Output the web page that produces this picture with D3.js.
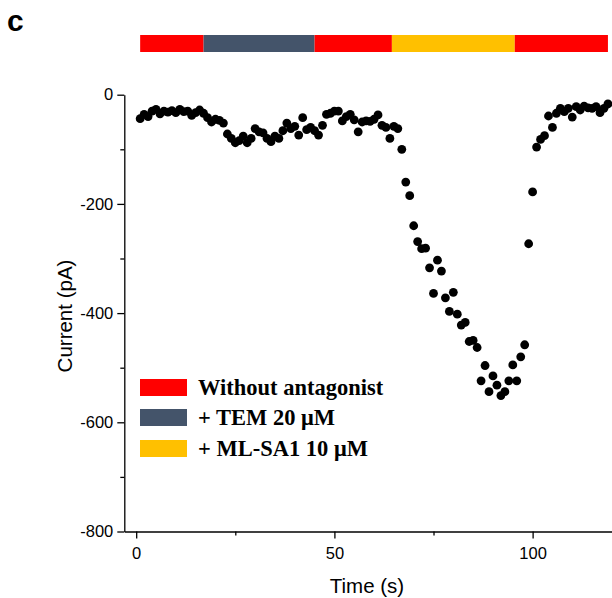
<!DOCTYPE html>
<html>
<head>
<meta charset="utf-8">
<script src="https://cdn.jsdelivr.net/npm/d3@7/dist/d3.min.js"></script>
<style>
  html, body { margin: 0; padding: 0; background: #fff; }
  svg { display: block; }
</style>
</head>
<body>
<svg id="chart" width="612" height="598"></svg>
<script>
// ---- data ----
const times = [1,2,3,4,5,6,7,8,9,10,11,12,13,14,15,16,17,18,19,20,
  21,22,23,24,25,26,27,28,29,30,31,32,33,34,35,36,37,38,39,40,
  41,42,43,44,45,46,47,48,49,50,51,52,53,54,55,56,57,58,59,60,
  61,62,63,64,65,66,67,68,69,70,71,72,73,74,75,76,77,78,79,80,
  81,82,83,84,85,86,87,88,89,90,91,92,93,94,95,96,97,98,99,100,
  101,102,103,104,105,106,107,108,109,110,111,112,113,114,115,116,117,118,119];
const currents = [-44,-36,-40,-30,-27,-35,-30,-32,-29,-33,-27,-31,-30,-38,-33,-28,-34,-42,-50,-45,
  -47,-52,-72,-80,-88,-84,-76,-88,-80,-62,-68,-70,-80,-86,-76,-80,-66,-52,-62,-58,
  -74,-42,-64,-60,-66,-74,-56,-36,-34,-30,-30,-48,-40,-36,-46,-68,-50,-48,-49,-45,
  -37,-56,-60,-80,-58,-62,-100,-160,-185,-240,-269,-282,-281,-317,-364,-303,-323,-372,-397,-362,
  -402,-422,-417,-452,-450,-463,-524,-496,-544,-515,-532,-551,-544,-524,-495,-524,-480,-458,-273,-178,
  -96,-82,-75,-39,-60,-34,-25,-31,-25,-41,-22,-28,-21,-24,-25,-22,-33,-25,-17];

const yMajorTicks = [-800, -600, -400, -200, 0];
const yMinorTicks = [-700, -500, -300, -100];
const xMajorTicks = [0, 50, 100];
const xMinorTicks = [25, 75];

const barStarts = [1, 17, 45, 64.5, 95.5];
const barEnds   = [17, 45, 64.5, 95.5, 119];
const barColors = ["#FF0000", "#44546A", "#FF0000", "#FFC000", "#FF0000"];

const legendLabels = ["Without antagonist", "+ TEM 20 \u03BCM", "+ ML-SA1 10 \u03BCM"];
const legendColors = ["#FF0000", "#44546A", "#FFC000"];

// ---- layout ----
const svg = d3.select("#chart");
const x = d3.scaleLinear().domain([-3, 120]).range([124.3, 611.9]);
const y = d3.scaleLinear().domain([-800, 0]).range([531.5, 94.7]);

// panel letter
svg.append("text").attr("x", 7).attr("y", 31)
  .attr("font-family", "Liberation Sans, Arial, sans-serif")
  .attr("font-weight", "bold").attr("font-size", 30).text("c");

// top condition bar
svg.append("g").selectAll("rect").data(barStarts).join("rect")
  .attr("x", (d) => x(d))
  .attr("width", (d, i) => x(barEnds[i]) - x(d))
  .attr("y", 35).attr("height", 17)
  .attr("fill", (d, i) => barColors[i]);

// axes
const fontAxis = "Liberation Sans, Arial, sans-serif";
const fmt = (d) => String(d);
const yAxis = svg.append("g").attr("transform", `translate(${x(-3)},0)`)
  .call(d3.axisLeft(y).tickValues(yMajorTicks).tickSize(7).tickSizeOuter(0).tickPadding(4).tickFormat(fmt));
yAxis.append("g").call(d3.axisLeft(y).tickValues(yMinorTicks).tickSize(4).tickFormat(""))
  .select(".domain").remove();
yAxis.selectAll("text").attr("font-family", fontAxis).attr("font-size", 16.5).attr("fill", "#000");

const xAxis = svg.append("g").attr("transform", `translate(0,${y(-800)})`)
  .call(d3.axisBottom(x).tickValues(xMajorTicks).tickSize(7).tickSizeOuter(0).tickPadding(9).tickFormat(fmt));
xAxis.append("g").call(d3.axisBottom(x).tickValues(xMinorTicks).tickSize(4).tickFormat(""))
  .select(".domain").remove();
xAxis.selectAll("text").attr("font-family", fontAxis).attr("font-size", 16.5).attr("fill", "#000");

svg.selectAll(".domain, .tick line").attr("stroke", "#000").attr("stroke-width", 1.3);

// axis titles
svg.append("text").attr("x", 367).attr("y", 593).attr("text-anchor", "middle")
  .attr("font-family", fontAxis).attr("font-size", 20.5).text("Time (s)");
svg.append("text").attr("transform", "translate(72,316) rotate(-90)").attr("text-anchor", "middle")
  .attr("font-family", fontAxis).attr("font-size", 20.5).text("Current (pA)");

// data points
svg.append("g").selectAll("circle").data(times).join("circle")
  .attr("cx", (d) => x(d))
  .attr("cy", (d, i) => y(currents[i]))
  .attr("r", 4.4)
  .attr("fill", "#000");

// legend
const lg = svg.append("g");
const legendY = [379, 409, 440];
legendLabels.forEach((lab, i) => {
  lg.append("rect").attr("x", 140).attr("y", legendY[i]).attr("width", 47).attr("height", 17)
    .attr("fill", legendColors[i]);
  lg.append("text").attr("x", 198).attr("y", legendY[i] + 15.5)
    .attr("font-family", "Liberation Serif, Times New Roman, serif")
    .attr("font-weight", "bold").attr("font-size", 22.5).attr("fill", "#000").text(lab);
});
</script>
</body>
</html>
